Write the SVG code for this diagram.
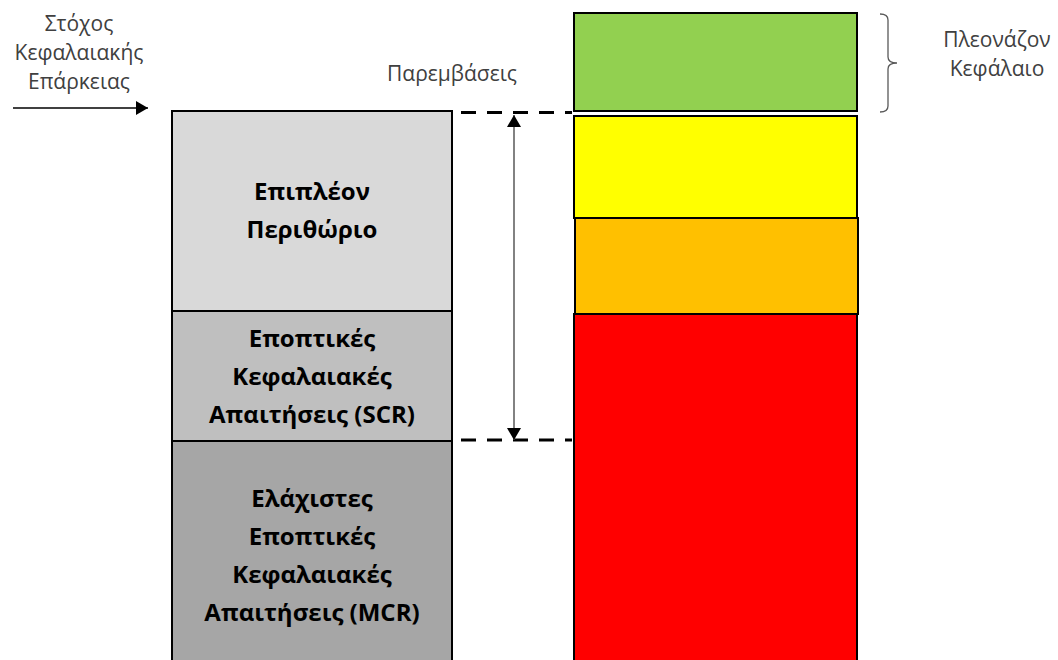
<svg xmlns="http://www.w3.org/2000/svg" width="1058" height="660" viewBox="0 0 1058 660">
<style>
.box{stroke:#000;stroke-width:2}
.bl{font-family:"Open Sans","Noto Sans","DejaVu Sans",sans-serif;font-weight:bold;font-size:24px;fill:#000;text-anchor:middle}
.lb{font-family:"Open Sans","Noto Sans","DejaVu Sans",sans-serif;font-size:21px;fill:#404040;text-anchor:middle}
.dash{stroke:#000;stroke-width:3;stroke-dasharray:15 11;fill:none}
</style>
<defs>
<marker id="ah2" viewBox="0 0 12 14" refX="12" refY="7" markerWidth="12" markerHeight="14" markerUnits="userSpaceOnUse" orient="auto-start-reverse">
<path d="M0,0 L12,7 L0,14 Z" fill="#000"/>
</marker>
</defs>
<rect width="1058" height="660" fill="#fff"/>
<g id="left-column">
<g id="node-margin"><rect class="box" x="172" y="111" width="280" height="200" fill="#D9D9D9"/>
<text class="bl" x="312" y="200">Επιπλέον</text><text class="bl" x="312" y="238">Περιθώριο</text></g>
<g id="node-scr"><rect class="box" x="172" y="311" width="280" height="130" fill="#BFBFBF"/>
<text class="bl" x="312" y="347">Εποπτικές</text><text class="bl" x="312" y="385">Κεφαλαιακές</text><text class="bl" x="312" y="423">Απαιτήσεις (SCR)</text></g>
<g id="node-mcr"><rect class="box" x="172" y="441" width="280" height="222" fill="#A6A6A6"/>
<text class="bl" x="312" y="507">Ελάχιστες</text><text class="bl" x="312" y="545">Εποπτικές</text><text class="bl" x="312" y="583">Κεφαλαιακές</text><text class="bl" x="312" y="621">Απαιτήσεις (MCR)</text></g>
</g>
<g id="right-column">
<g id="node-green"><rect class="box" x="574" y="13" width="283" height="98" fill="#92D050"/></g>
<g id="node-yellow"><rect class="box" x="574" y="116" width="283" height="102" fill="#FFFF00"/></g>
<g id="node-orange"><rect class="box" x="575" y="218" width="283" height="96" fill="#FFC000"/></g>
<g id="node-red"><rect class="box" x="574" y="314" width="283" height="350" fill="#FF0000"/></g>
</g>
<g id="labels">
<g id="label-target"><text class="lb" x="79" y="31">Στόχος</text><text class="lb" x="79" y="60">Κεφαλαιακής</text><text class="lb" x="79" y="89">Επάρκειας</text></g>
<g id="label-interventions"><text class="lb" x="452" y="81">Παρεμβάσεις</text></g>
<g id="label-surplus"><text class="lb" x="997" y="47">Πλεονάζον</text><text class="lb" x="997" y="76">Κεφάλαιο</text></g>
</g>
<g id="connectors">
<line x1="13" y1="108" x2="148" y2="108" stroke="#000" stroke-width="1.5" marker-end="url(#ah2)"/>
<line class="dash" x1="461" y1="112.5" x2="572" y2="112.5"/>
<line class="dash" x1="461" y1="440" x2="572" y2="440"/>
<line x1="514" y1="115" x2="514" y2="440" stroke="#595959" stroke-width="1.5" marker-start="url(#ah2)" marker-end="url(#ah2)"/>
<path d="M880,14 Q888,14 888,20 L888,57 Q888,63 897,63 Q888,63 888,69 L888,106 Q888,112 880,112" fill="none" stroke="#595959" stroke-width="1.3"/>
</g>
</svg>
